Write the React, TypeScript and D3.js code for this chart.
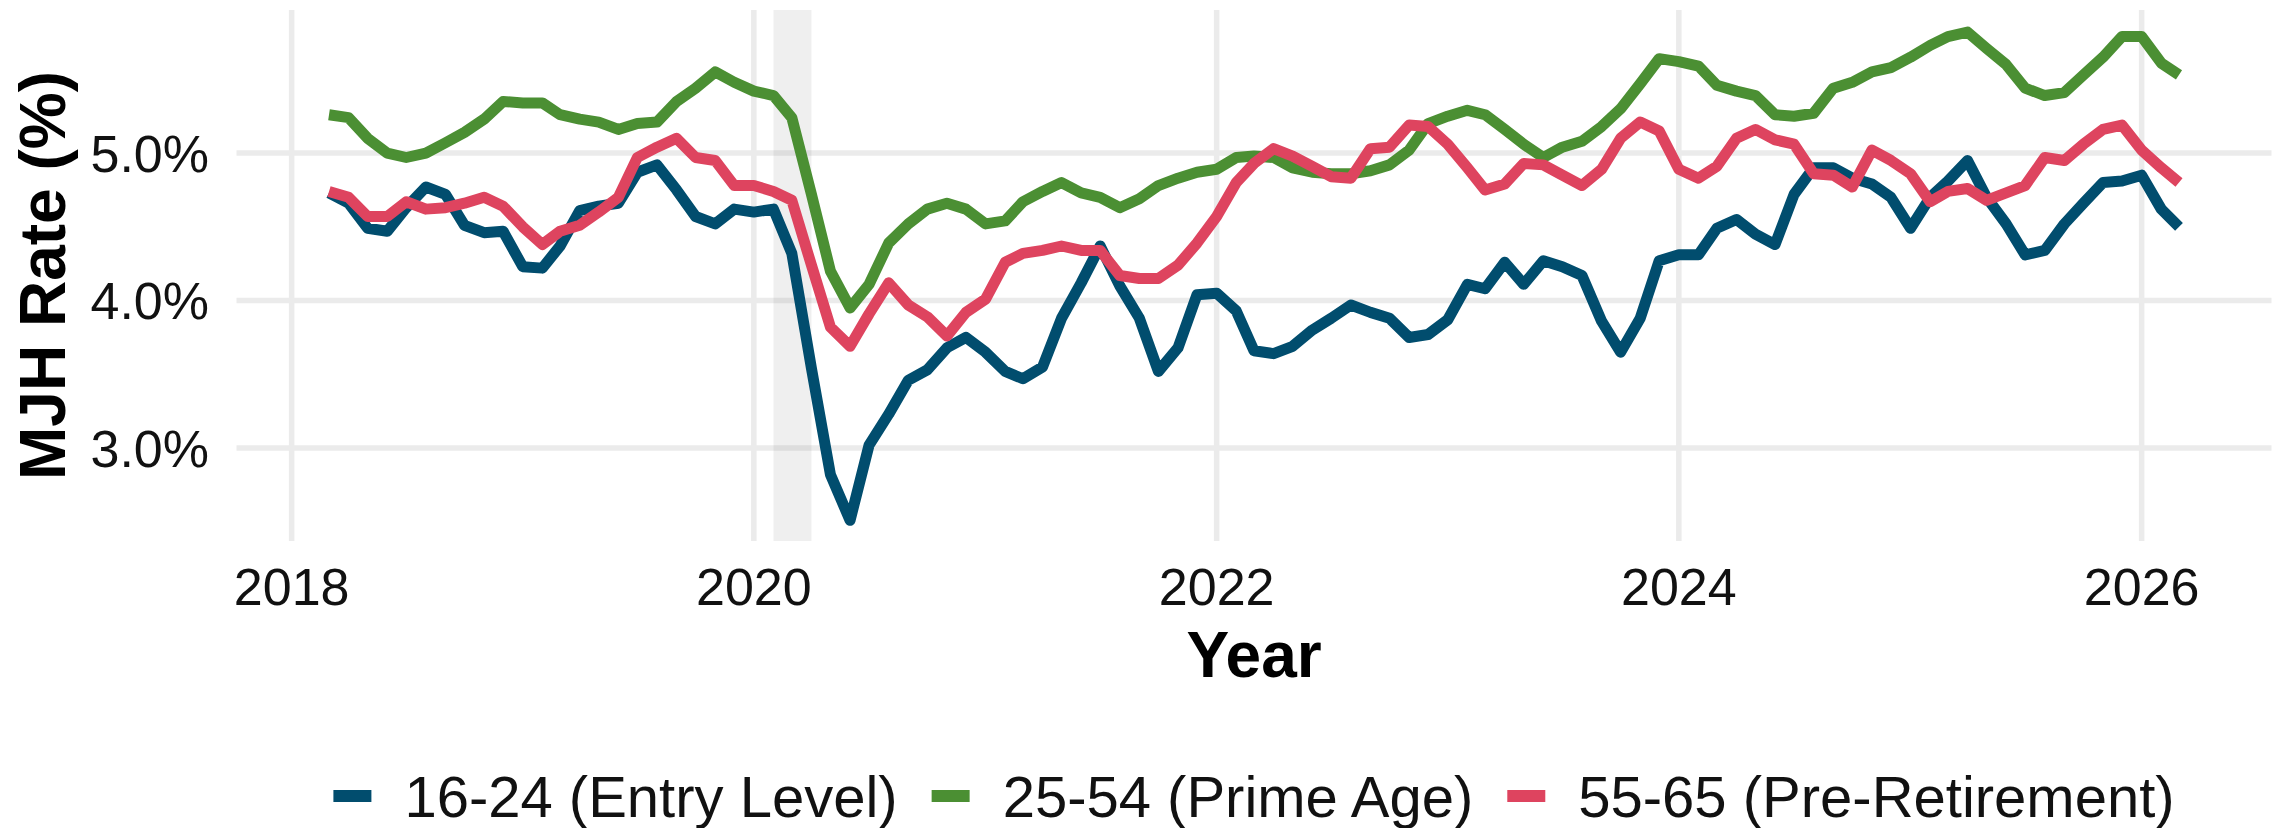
import React, { useEffect, useRef } from 'react'
import * as d3 from 'd3'

// monthly observations, Mar 2018 .. Mar 2026
const START = new Date(2018, 2, 1)
const END = new Date(2026, 2, 1)
const MONTHS = d3.timeMonth.range(START, d3.timeMonth.offset(END, 1))

const ENTRY_LEVEL = [
  4.73, 4.66, 4.49, 4.47, 4.63, 4.77, 4.72, 4.51, 4.46, 4.47, 4.23, 4.22, 4.37, 4.61,
  4.64, 4.66, 4.87, 4.92, 4.75, 4.57, 4.52, 4.62, 4.6, 4.62, 4.32, 3.54, 2.82, 2.51,
  3.02, 3.23, 3.46, 3.53, 3.68, 3.75, 3.65, 3.52, 3.47, 3.55, 3.88, 4.12, 4.37, 4.1,
  3.88, 3.52, 3.68, 4.04, 4.05, 3.93, 3.66, 3.64, 3.69, 3.8, 3.88, 3.97, 3.92, 3.88,
  3.75, 3.77, 3.87, 4.11, 4.08, 4.26, 4.11, 4.27, 4.23, 4.17, 3.86, 3.65, 3.88, 4.27,
  4.31, 4.31, 4.49, 4.55, 4.45, 4.38, 4.72, 4.9, 4.9, 4.83, 4.79, 4.7, 4.49, 4.7,
  4.81, 4.95, 4.7, 4.52, 4.31, 4.34, 4.52, 4.66, 4.8, 4.81, 4.85, 4.62, 4.5,
]

const PRIME_AGE = [
  5.26, 5.24, 5.1, 5.0, 4.97, 5.0, 5.07, 5.14, 5.23, 5.35, 5.34, 5.34, 5.26, 5.23,
  5.21, 5.16, 5.2, 5.21, 5.35, 5.44, 5.55, 5.48, 5.42, 5.39, 5.24, 4.72, 4.2, 3.95,
  4.11, 4.39, 4.52, 4.62, 4.66, 4.62, 4.52, 4.54, 4.67, 4.74, 4.8, 4.73, 4.7, 4.63,
  4.69, 4.78, 4.83, 4.87, 4.89, 4.97, 4.98, 4.97, 4.9, 4.87, 4.86, 4.86, 4.88, 4.92,
  5.02, 5.2, 5.25, 5.29, 5.26, 5.16, 5.06, 4.97, 5.04, 5.08, 5.18, 5.3, 5.47, 5.64,
  5.62, 5.59, 5.46, 5.42, 5.39, 5.26, 5.25, 5.27, 5.44, 5.48, 5.55, 5.58, 5.65, 5.73,
  5.79, 5.82, 5.71, 5.6, 5.44, 5.39, 5.41, 5.53, 5.65, 5.79, 5.79, 5.61, 5.53,
]

const PRE_RETIREMENT = [
  4.74, 4.7, 4.57, 4.57, 4.67, 4.62, 4.63, 4.66, 4.7, 4.64, 4.5, 4.38, 4.47, 4.51,
  4.6, 4.7, 4.97, 5.04, 5.1, 4.97, 4.95, 4.78, 4.78, 4.74, 4.68, 4.24, 3.82, 3.69,
  3.91, 4.12, 3.97, 3.89, 3.76, 3.92, 4.01, 4.26, 4.32, 4.34, 4.37, 4.34, 4.34, 4.17,
  4.15, 4.15, 4.24, 4.39, 4.57, 4.8, 4.93, 5.03, 4.98, 4.91, 4.84, 4.83, 5.03, 5.04,
  5.19, 5.18, 5.06, 4.9, 4.75, 4.79, 4.93, 4.92, 4.85, 4.78, 4.89, 5.1, 5.21, 5.15,
  4.89, 4.83, 4.91, 5.1, 5.16, 5.09, 5.06, 4.86, 4.85, 4.77, 5.02, 4.95, 4.86, 4.67,
  4.74, 4.76, 4.68, 4.73, 4.78, 4.97, 4.95, 5.06, 5.16, 5.19, 5.02, 4.9, 4.8,
]

const SERIES = [
  { name: '16-24 (Entry Level)', values: ENTRY_LEVEL, color: '#014d6e' },
  { name: '25-54 (Prime Age)', values: PRIME_AGE, color: '#4b8f33' },
  { name: '55-65 (Pre-Retirement)', values: PRE_RETIREMENT, color: '#de445f' },
]

const X_TICKS = [2018, 2020, 2022, 2024, 2026]
const Y_TICKS = [3, 4, 5]
const RECESSION = [new Date(2020, 1, 1), new Date(2020, 3, 1)]

const W = 2279
const H = 828
const FONT = "'Liberation Sans', Arial, Helvetica, sans-serif"

function MjhChart() {
  const svgRef = useRef<SVGSVGElement>(null)

  useEffect(() => {
    if (!svgRef.current) return
    const panel = { left: 236.5, right: 2271.5, top: 10, bottom: 541 }

    const svg = d3.select(svgRef.current)
    svg.selectAll('*').remove()

    // ggplot style 5% expansion on the date axis
    const span = END.getTime() - START.getTime()
    const x = d3
      .scaleTime()
      .domain([new Date(START.getTime() - span * 0.05), new Date(END.getTime() + span * 0.05)])
      .range([panel.left, panel.right])
    const y = d3.scaleLinear().domain([2.37, 5.97]).range([panel.bottom, panel.top])

    svg.append('rect').attr('width', W).attr('height', H).attr('fill', '#ffffff')

    const grid = svg.append('g').attr('stroke', '#ebebeb').attr('stroke-width', 5.5)
    grid
      .selectAll('line.h')
      .data(Y_TICKS)
      .enter()
      .append('line')
      .attr('class', 'h')
      .attr('x1', panel.left)
      .attr('x2', panel.right)
      .attr('y1', (d) => y(d))
      .attr('y2', (d) => y(d))
    grid
      .selectAll('line.v')
      .data(X_TICKS)
      .enter()
      .append('line')
      .attr('class', 'v')
      .attr('x1', (d) => x(new Date(d, 0, 1)))
      .attr('x2', (d) => x(new Date(d, 0, 1)))
      .attr('y1', panel.top)
      .attr('y2', panel.bottom)

    // recession band
    svg
      .append('rect')
      .attr('x', x(RECESSION[0]))
      .attr('width', x(RECESSION[1]) - x(RECESSION[0]))
      .attr('y', panel.top)
      .attr('height', panel.bottom - panel.top)
      .attr('fill', '#7f7f7f')
      .attr('fill-opacity', 0.12)

    const line = d3
      .line<number>()
      .x((_, i) => x(MONTHS[i]))
      .y((d) => y(d))

    SERIES.forEach((s) => {
      svg
        .append('path')
        .datum(s.values)
        .attr('fill', 'none')
        .attr('stroke', s.color)
        .attr('stroke-width', 11)
        .attr('stroke-linejoin', 'round')
        .attr('stroke-linecap', 'butt')
        .attr('d', line)
    })

    // axis labels
    svg
      .append('g')
      .selectAll('text')
      .data(Y_TICKS)
      .enter()
      .append('text')
      .attr('x', 209)
      .attr('y', (d) => y(d))
      .attr('dy', '0.36em')
      .attr('text-anchor', 'end')
      .attr('fill', '#111')
      .attr('font-family', FONT)
      .attr('font-size', 52)
      .text((d) => d.toFixed(1) + '%')

    svg
      .append('g')
      .selectAll('text')
      .data(X_TICKS)
      .enter()
      .append('text')
      .attr('x', (d) => x(new Date(d, 0, 1)))
      .attr('y', 605)
      .attr('text-anchor', 'middle')
      .attr('fill', '#111')
      .attr('font-family', FONT)
      .attr('font-size', 52)
      .text((d) => String(d))

    svg
      .append('text')
      .attr('transform', `translate(65,${(panel.top + panel.bottom) / 2}) rotate(-90)`)
      .attr('text-anchor', 'middle')
      .attr('font-family', FONT)
      .attr('font-weight', 'bold')
      .attr('font-size', 64)
      .attr('fill', '#000')
      .text('MJH Rate (%)')

    svg
      .append('text')
      .attr('x', (panel.left + panel.right) / 2)
      .attr('y', 677)
      .attr('text-anchor', 'middle')
      .attr('font-family', FONT)
      .attr('font-weight', 'bold')
      .attr('font-size', 64)
      .attr('fill', '#000')
      .text('Year')

    // legend, laid out from measured text widths and centred under the panel
    const keyW = 38
    const keyGap = 33
    const itemGap = 34
    const legend = svg.append('g')
    const items = SERIES.map((s) => {
      const g = legend.append('g')
      g.append('line')
        .attr('x1', 0)
        .attr('x2', keyW)
        .attr('y1', 796)
        .attr('y2', 796)
        .attr('stroke', s.color)
        .attr('stroke-width', 12)
      const t = g
        .append('text')
        .attr('x', keyW + keyGap)
        .attr('y', 817)
        .attr('font-family', FONT)
        .attr('font-size', 58)
        .attr('fill', '#111')
        .text(s.name)
      const tw = (t.node() as SVGTextElement).getComputedTextLength()
      return { g, w: keyW + keyGap + tw }
    })
    const total = d3.sum(items, (d) => d.w) + itemGap * (items.length - 1)
    let cx = (panel.left + panel.right) / 2 - total / 2
    items.forEach((it) => {
      it.g.attr('transform', `translate(${cx},0)`)
      cx += it.w + itemGap
    })
  }, [])

  return (
    <svg
      ref={svgRef}
      width={W}
      height={H}
      style={{ position: 'absolute', left: 0, top: 0, display: 'block' }}
    />
  )
}

export default function App() {
  return <MjhChart />
}
